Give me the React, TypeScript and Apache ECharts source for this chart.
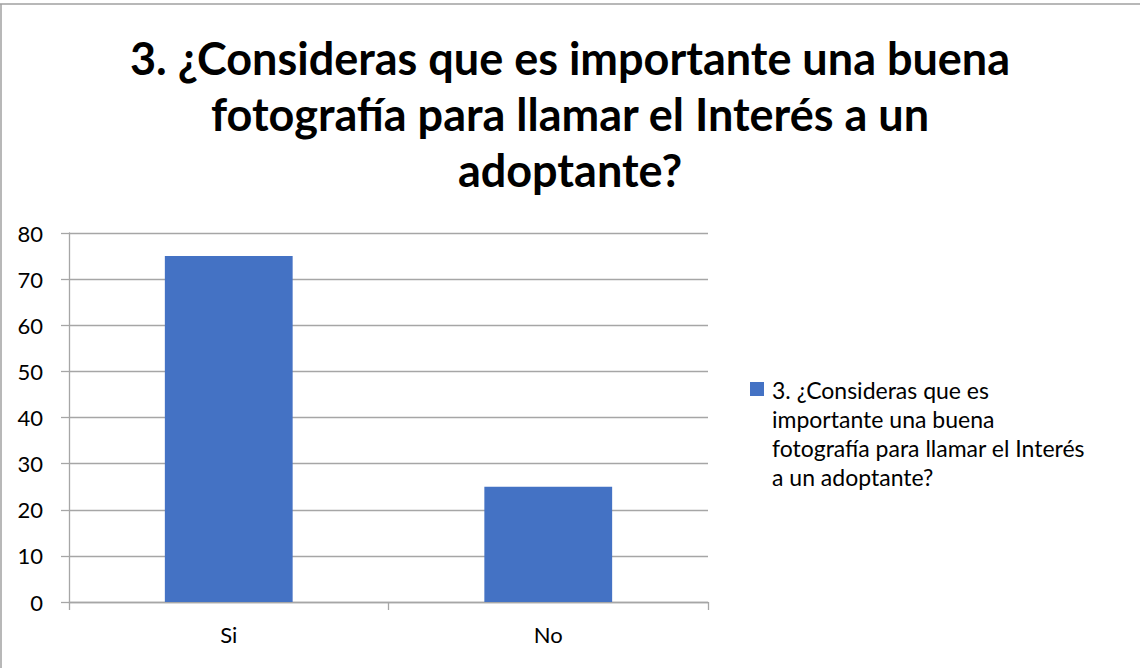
import React, { useEffect, useRef } from "react";
import * as echarts from "echarts";

const TITLE_LINES = [
  "3. ¿Consideras que es importante una buena",
  "fotografía para llamar el Interés a un",
  "adoptante?",
];
const SERIES_NAME = "3. ¿Consideras que es importante una buena fotografía para llamar el Interés a un adoptante?";
const LEGEND_LINES = [
  "3. ¿Consideras que es",
  "importante una buena",
  "fotografía para llamar el Interés",
  "a un adoptante?",
];
const CATEGORIES = ["Si", "No"];
const VALUES = [75, 25];
const Y_MIN = 0;
const Y_MAX = 80;
const Y_INTERVAL = 10;

export default function App() {
  const ref = useRef<HTMLDivElement>(null);
  useEffect(() => {
    document.body.style.margin = "0";
    if (!ref.current) return;
    const chart = echarts.init(ref.current, null, { renderer: "svg" });
    const axisGrey = "#a6a6a6";
    chart.setOption({
      animation: false,
      backgroundColor: "#ffffff",
      textStyle: { fontFamily: "Lato" },
      title: {
        text: TITLE_LINES.join("\n"),
        left: "center",
        top: 30,
        padding: 0,
        textStyle: {
          fontFamily: "Lato",
          fontWeight: "bold",
          fontSize: 45,
          lineHeight: 56,
          color: "#000000",
        },
      },
      grid: { left: 69, right: 432, top: 233, bottom: 66, containLabel: false },
      xAxis: {
        type: "category",
        data: CATEGORIES,
        axisLine: { lineStyle: { color: axisGrey, width: 1.3 } },
        axisTick: { show: true, alignWithLabel: false, length: 8, lineStyle: { color: axisGrey, width: 1.3 } },
        axisLabel: { color: "#000000", fontSize: 22, fontFamily: "Lato", margin: 21 },
        splitLine: { show: false },
      },
      yAxis: {
        type: "value",
        min: Y_MIN,
        max: Y_MAX,
        interval: Y_INTERVAL,
        axisLine: { show: true, lineStyle: { color: axisGrey, width: 1.3 } },
        axisTick: { show: true, length: 8, lineStyle: { color: axisGrey, width: 1.3 } },
        axisLabel: { color: "#000000", fontSize: 22, fontFamily: "Lato", margin: 26 },
        splitLine: { show: true, lineStyle: { color: axisGrey, width: 1.3 } },
      },
      series: [
        {
          name: SERIES_NAME,
          type: "bar",
          data: VALUES,
          barWidth: "40%",
          itemStyle: { color: "#4472C4" },
        },
      ],
      graphic: [
        { type: "line", shape: { x1: 0, y1: 4, x2: 1140, y2: 4 }, style: { stroke: "#a0a0a0", lineWidth: 1.5 } },
        { type: "line", shape: { x1: 1, y1: 4, x2: 1, y2: 668 }, style: { stroke: "#a0a0a0", lineWidth: 1.5 } },
        { type: "rect", shape: { x: 750, y: 382, width: 14, height: 14 }, style: { fill: "#4472C4" } },
        {
          type: "text",
          x: 772,
          y: 375,
          style: {
            text: LEGEND_LINES.join("\n"),
            font: "23px Lato",
            lineHeight: 29,
            fill: "#000000",
            verticalAlign: "top",
            align: "left",
          },
        },
      ],
    });
    return () => chart.dispose();
  }, []);
  return <div ref={ref} style={{ width: 1140, height: 668 }} />;
}
